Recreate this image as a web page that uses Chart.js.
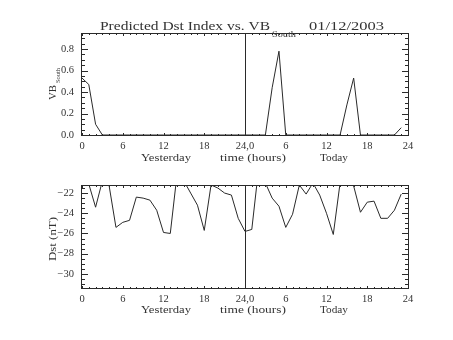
<!DOCTYPE html>
<html>
<head>
<meta charset="utf-8">
<script src="https://cdn.jsdelivr.net/npm/chart.js@4"></script>
<style>
  html, body { margin: 0; padding: 0; background: #fff; }
  #wrap { position: relative; width: 453px; height: 340px; }
  canvas { position: absolute; left: 0; }
  #cTop { top: 0; }
  #cBot { top: 170px; }
</style>
</head>
<body>
<div id="wrap">
  <canvas id="cTop" width="453" height="170"></canvas>
  <canvas id="cBot" width="453" height="170"></canvas>
</div>
<script>
// hours since 00:00 yesterday (0-23 yesterday, 24-47 today)
const hours = [0, 1, 2, 3, 4, 5, 6, 7, 8, 9, 10, 11, 12, 13, 14, 15, 16, 17, 18, 19, 20, 21, 22, 23,
               24, 25, 26, 27, 28, 29, 30, 31, 32, 33, 34, 35, 36, 37, 38, 39, 40, 41, 42, 43, 44, 45, 46, 47];

// VB south
const vbSouth = [0.53, 0.47, 0.10, 0, 0, 0, 0, 0, 0, 0, 0, 0, 0, 0, 0, 0, 0, 0, 0, 0, 0, 0, 0, 0,
                 0, 0, 0, 0, 0.44, 0.78, 0, 0, 0, 0, 0, 0, 0, 0, 0, 0.28, 0.53, 0, 0, 0, 0, 0, 0, 0.068];

// predicted Dst (nT) - values above the top of the plot get clipped
const dst = [-21.0, -21.1, -23.4, -20.8, -21.3, -25.4, -24.9, -24.7, -22.4, -22.5, -22.7, -23.7,
             -25.9, -26.0, -20.1, -20.8, -22.0, -23.2, -25.7, -21.2, -21.5, -22.0, -22.2, -24.5,
             -25.8, -25.6, -19.6, -21.0, -22.5, -23.3, -25.4, -24.1, -21.2, -22.1, -21.0, -22.2,
             -24.0, -26.1, -21.0, -21.0, -21.3, -23.9, -22.9, -22.8, -24.5, -24.5, -23.7, -22.1];

const xTickValues = [0, 6, 12, 18, 24, 30, 36, 42, 48];
const xTickLabels = ["0", "6", "12", "18", "24,0", "6", "12", "18", "24"];
const vbTicks = [0, 0.2, 0.4, 0.6, 0.8];
const dstTicks = [-30, -28, -26, -24, -22];

const INK = "#2a2a2a";
const TEXT = "#333";
const SERIF = "'Liberation Serif', 'DejaVu Serif', serif";

// text stretched to the width it has in the picture
function fitText(ctx, t) {
    ctx.save();
    ctx.font = `${t.size}px ${SERIF}`;
    ctx.fillStyle = TEXT;
    ctx.textAlign = "left";
    ctx.textBaseline = "alphabetic";
    const m = ctx.measureText(t.text).width;
    ctx.translate(t.x, t.y);
    if (t.rot) ctx.rotate(t.rot);
    ctx.scale(t.w / m, 1);
    ctx.fillText(t.text, 0, 0);
    ctx.restore();
}

// IDL style box: frame, inward ticks on all four sides, line at 24,0
const framePlugin = {
    id: "frame",
    afterDraw(chart, args, o) {
        const { ctx, chartArea: a, scales: { x, y } } = chart;
        const L = a.left - 0.5, R = a.right + 0.5, T = a.top - 0.5, B = a.bottom + 0.5;
        ctx.save();
        ctx.strokeStyle = INK;
        ctx.lineWidth = 1;
        ctx.strokeRect(L, T, R - L, B - T);
        ctx.beginPath();
        for (let h = 0; h <= 48; h++) {
            const px = Math.round(x.getPixelForValue(h)) + 0.5;
            const len = h % 6 === 0 ? 2.5 : 1.5;
            ctx.moveTo(px, B); ctx.lineTo(px, B - len);
            ctx.moveTo(px, T); ctx.lineTo(px, T + len);
        }
        const first = Math.ceil(y.min / o.minor - 1e-6);
        const last = Math.floor(y.max / o.minor + 1e-6);
        for (let k = first; k <= last; k++) {
            const v = k * o.minor;
            const major = Math.abs(v / o.major - Math.round(v / o.major)) < 1e-6;
            const py = Math.round(y.getPixelForValue(v)) + 0.5;
            const len = major ? 6.5 : 3.5;
            ctx.moveTo(L, py); ctx.lineTo(L + len, py);
            ctx.moveTo(R, py); ctx.lineTo(R - len, py);
        }
        const mid = Math.round(x.getPixelForValue(24)) + 0.5;
        ctx.moveTo(mid, T); ctx.lineTo(mid, B);
        ctx.stroke();
        ctx.restore();
        o.texts.forEach(t => fitText(ctx, t));
    }
};

function makePanel(id, values, p) {
    return new Chart(document.getElementById(id), {
        type: "line",
        data: {
            datasets: [{
                data: hours.map((h, i) => ({ x: h, y: values[i] })),
                borderColor: INK,
                borderWidth: 1,
                pointRadius: 0,
                tension: 0,
                fill: false,
            }],
        },
        options: {
            responsive: false,
            animation: false,
            events: [],
            layout: { padding: { left: 0, right: 453 - 408, top: p.top, bottom: 0 } },
            plugins: {
                legend: { display: false },
                tooltip: { enabled: false },
                frame: { major: p.major, minor: p.minor, texts: p.texts },
            },
            scales: {
                x: {
                    type: "linear",
                    min: 0,
                    max: 48,
                    grid: { display: false, drawTicks: false },
                    border: { display: false },
                    afterBuildTicks: s => { s.ticks = xTickValues.map(v => ({ value: v })); },
                    afterFit: s => { s.height = 170 - p.bottom; },
                    ticks: {
                        autoSkip: false,
                        maxRotation: 0,
                        padding: 5,
                        color: TEXT,
                        font: { family: SERIF, size: 10.5 },
                        callback: (v, i) => xTickLabels[i],
                    },
                },
                y: {
                    type: "linear",
                    min: p.yMin,
                    max: p.yMax,
                    grid: { display: false, drawTicks: false },
                    border: { display: false },
                    afterBuildTicks: s => { s.ticks = p.yTicks.map(v => ({ value: v })); },
                    afterFit: s => { s.width = 82; },
                    ticks: {
                        padding: 8,
                        color: TEXT,
                        font: { family: SERIF, size: 10.5 },
                        callback: p.fmt,
                    },
                },
            },
        },
        plugins: [framePlugin],
    });
}

document.addEventListener("DOMContentLoaded", () => {
    //VB south
    makePanel("cTop", vbSouth, {
        top: 34, bottom: 135,
        yMin: 0, yMax: 0.94,
        yTicks: vbTicks, major: 0.2, minor: 0.05,
        fmt: v => v.toFixed(1),
        texts: [
            { text: "Predicted Dst Index vs. VB", x: 100, y: 29.5, w: 170, size: 13 },
            { text: "South", x: 272, y: 36.5, w: 24, size: 8 },
            { text: "01/12/2003", x: 309, y: 29.5, w: 75, size: 13 },
            { text: "VB", x: 55.5, y: 100, w: 15, size: 10.5, rot: -Math.PI / 2 },
            { text: "South", x: 60, y: 83, w: 15, size: 7, rot: -Math.PI / 2 },
            { text: "Yesterday", x: 141, y: 160.5, w: 50, size: 10.5 },
            { text: "time (hours)", x: 220, y: 160.5, w: 66, size: 10.5 },
            { text: "Today", x: 320, y: 160.5, w: 28, size: 10.5 },
        ],
    });

    //Dst
    makePanel("cBot", dst, {
        top: 16, bottom: 118,
        yMin: -31.4, yMax: -21.3,
        yTicks: dstTicks, major: 2, minor: 0.5,
        fmt: v => "\u2212" + Math.abs(v),
        texts: [
            { text: "Dst (nT)", x: 55.5, y: 91, w: 44, size: 10.5, rot: -Math.PI / 2 },
            { text: "Yesterday", x: 141, y: 142.5, w: 50, size: 10.5 },
            { text: "time (hours)", x: 220, y: 142.5, w: 66, size: 10.5 },
            { text: "Today", x: 320, y: 142.5, w: 28, size: 10.5 },
        ],
    });
});
</script>
</body>
</html>
